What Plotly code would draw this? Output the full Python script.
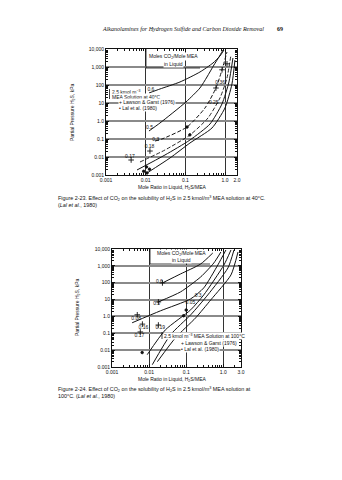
import math
import plotly.graph_objects as go

# ---------------- data: Figure 2-23 (40 °C) ----------------
# H2S partial pressure (kPa) vs. mole ratio H2S/MEA, one curve per CO2 loading
t40_a_x = [0.0121, 0.0229, 0.0731, 0.233, 0.496, 0.744, 0.938]
t40_a_y = [36, 60, 147, 527, 1667, 4083, 8800]
t40_b_x = [0.0121, 0.0229, 0.1035, 0.233, 0.350, 0.525, 0.702, 0.886]
t40_b_y = [0.278, 0.774, 11.4, 68, 278, 1291, 3594, 8800]
t40_c_x = [0.0172, 0.0257, 0.110, 0.312, 0.590, 0.835, 1.117]
t40_c_y = [0.0774, 0.10, 0.464, 5.27, 68, 681, 6813]
t40_d_x = [0.00718, 0.0306, 0.1306, 0.371, 0.744, 1.117, 1.408]
t40_d_y = [0.00527, 0.0245, 0.167, 1.47, 19.0, 245, 4642]
t40_e_x = [0.00604, 0.0306, 0.1306, 0.417, 0.835, 1.254, 1.581]
t40_e_y = [0.0019, 0.0129, 0.088, 0.681, 8.8, 147, 3162]
t40_f_x = [0.0108, 0.0409, 0.1306, 0.468, 0.994, 1.493, 1.775]
t40_f_y = [0.00129, 0.0088, 0.060, 0.408, 5.27, 114, 2448]

# Lawson & Garst (+) and Lal et al. (•) points
t40_lg_x = [0.0043, 0.0128, 0.59, 0.84, 1.12]
t40_lg_y = [0.0068, 0.0215, 68, 700, 1500]
t40_lal_x = [0.0089, 0.0108, 0.0125, 0.0105, 0.11, 0.13]
t40_lal_y = [0.0016, 0.0013, 0.0021, 0.0028, 0.46, 0.17]

# CO2 loading labels
t40_lab_x = [0.0135, 0.0125, 0.018, 0.0040, 0.0125, 0.75, 0.52]
t40_lab_y = [52, 0.42, 0.095, 0.011, 0.035, 130, 11]
t40_lab_t = ["0.6", "0.5", "0.3", "0.17", "0.18", "0.36", "0.25"]

# ---------------- data: Figure 2-24 (100 °C) ----------------
t100_a_x = [0.0229, 0.0705, 0.246, 0.521]
t100_a_y = [97, 332, 1295, 5800]
t100_b_x = [0.0178, 0.0705, 0.246, 0.556, 0.861]
t100_b_y = [7.3, 28.6, 220, 1486, 6640]
t100_c_x = [0.00349, 0.0201, 0.132, 0.297, 0.713, 1.177]
t100_c_y = [0.42, 2.14, 11.0, 49.2, 1130, 8730]
t100_d_x = [0.0089, 0.0275, 0.132, 0.297, 1.04, 1.61]
t100_d_y = [0.0054, 0.16, 2.46, 18.9, 1130, 8730]
t100_e_x = [0.0122, 0.0377, 0.132, 0.382, 1.334, 1.94]
t100_e_y = [0.00137, 0.0815, 1.24, 18.9, 752, 8730]
t100_f_x = [0.0167, 0.0515, 0.180, 0.460, 1.61, 2.49]
t100_f_y = [0.00206, 0.0542, 0.826, 9.6, 290, 6640]

t100_lg_x = [0.0048, 0.0066, 0.0178, 0.0058, 0.0229, 0.0178]
t100_lg_y = [1.25, 0.35, 0.31, 0.12, 97, 7.3]
t100_lal_x = [0.0065, 0.10, 0.085]
t100_lal_y = [0.0072, 2.4, 1.1]

t100_lab_x = [0.0045, 0.0070, 0.020, 0.0055, 0.019, 0.016, 0.13, 0.21]
t100_lab_y = [0.75, 0.21, 0.20, 0.075, 110, 5.5, 6.5, 18]
t100_lab_t = ["0.08", "0.16", "0.19", "0.17", "0.6", "0.5", "0.05", "0.3"]

# tick labels
y_ticks = [0.001, 0.01, 0.1, 1, 10, 100, 1000, 10000]
y_text = ["0.001", "0.01", "0.1", "1.0", "10", "100", "1,000", "10,000"]
x_ticks_top = [0.001, 0.01, 0.1, 1, 2]
x_text_top = ["0.001", "0.01", "0.1", "1.0", "2.0"]
x_ticks_bot = [0.001, 0.01, 0.1, 1, 3]
x_text_bot = ["0.001", "0.01", "0.1", "1.0", "3.0"]

# ---------------- page geometry (342x480 px) ----------------
W, H = 342, 480
def fx(p):
    return p / W
def fy(p):
    return 1 - p / H

INK = "#111111"
SANS = "Liberation Sans"

fig = go.Figure()

def add_curve(x, y, xa, ya, dash="solid", width=1.0):
    fig.add_trace(go.Scatter(
        x=x, y=y, xaxis=xa, yaxis=ya, mode="lines",
        line=dict(color=INK, width=width, dash=dash, shape="spline", smoothing=0.6),
        showlegend=False, hoverinfo="skip"))

def add_points(x, y, xa, ya, symbol, size):
    fig.add_trace(go.Scatter(
        x=x, y=y, xaxis=xa, yaxis=ya, mode="markers",
        marker=dict(symbol=symbol, size=size, color=INK,
                    line=dict(color=INK, width=0.9)),
        showlegend=False, hoverinfo="skip"))

def add_labels(xs, ys, ts, xa, ya):
    fig.add_trace(go.Scatter(
        x=xs, y=ys, xaxis=xa, yaxis=ya, mode="text", text=ts,
        textfont=dict(family=SANS, size=5, color=INK),
        showlegend=False, hoverinfo="skip"))

# top chart
add_curve(t40_a_x, t40_a_y, "x", "y")
add_curve(t40_b_x, t40_b_y, "x", "y")
add_curve(t40_c_x, t40_c_y, "x", "y", dash="4px,2px")
add_curve(t40_d_x, t40_d_y, "x", "y", dash="4px,2px", width=0.9)
add_curve(t40_e_x, t40_e_y, "x", "y")
add_curve(t40_f_x, t40_f_y, "x", "y")
add_points(t40_lg_x, t40_lg_y, "x", "y", "cross-thin", 4)
add_points(t40_lal_x, t40_lal_y, "x", "y", "circle", 2.5)
add_labels(t40_lab_x, t40_lab_y, t40_lab_t, "x", "y")

# bottom chart
add_curve(t100_a_x, t100_a_y, "x2", "y2")
add_curve(t100_b_x, t100_b_y, "x2", "y2")
add_curve(t100_c_x, t100_c_y, "x2", "y2")
add_curve(t100_d_x, t100_d_y, "x2", "y2")
add_curve(t100_e_x, t100_e_y, "x2", "y2")
add_curve(t100_f_x, t100_f_y, "x2", "y2")
add_points(t100_lg_x, t100_lg_y, "x2", "y2", "cross-thin", 4)
add_points(t100_lal_x, t100_lal_y, "x2", "y2", "circle", 2.5)
add_labels(t100_lab_x, t100_lab_y, t100_lab_t, "x2", "y2")

def minor_vals(lo, hi):
    vals = []
    for e in range(lo, hi):
        for m in range(2, 10):
            vals.append(m * 10 ** e)
    return vals

tickfont = dict(family=SANS, size=5, color=INK)

def xaxis(domain, rng, vals, text, anchor):
    return dict(type="log", domain=domain, range=rng, anchor=anchor,
                tickmode="array", tickvals=vals, ticktext=text, tickfont=tickfont,
                showline=True, linecolor=INK, linewidth=1, mirror="ticks",
                ticks="inside", ticklen=3, tickcolor=INK, tickwidth=0.8,
                minor=dict(tickmode="array", tickvals=minor_vals(-3, 1),
                           ticks="inside", ticklen=2, tickcolor=INK, tickwidth=0.6,
                           showgrid=False),
                showgrid=True, gridcolor="#333", gridwidth=0.8,
                zeroline=False, automargin=False, fixedrange=True)

def yaxis(domain, anchor):
    return dict(type="log", domain=domain, range=[-3, 4], anchor=anchor,
                tickmode="array", tickvals=y_ticks, ticktext=y_text, tickfont=tickfont,
                showline=True, linecolor=INK, linewidth=1, mirror="ticks",
                ticks="inside", ticklen=3, tickcolor=INK, tickwidth=0.8,
                minor=dict(tickmode="array", tickvals=minor_vals(-3, 4),
                           ticks="inside", ticklen=2, tickcolor=INK, tickwidth=0.6,
                           showgrid=False),
                showgrid=True, gridcolor="#8a8a8a", gridwidth=1.6,
                zeroline=False, automargin=False, fixedrange=True)

top_xd = [fx(106), fx(237)]
top_yd = [fy(175), fy(49)]
bot_xd = [fx(112), fx(241)]
bot_yd = [fy(367), fy(249)]

fig.update_layout(
    width=W, height=H,
    margin=dict(l=0, r=0, t=0, b=0),
    paper_bgcolor="white", plot_bgcolor="white",
    showlegend=False,
    xaxis=xaxis(top_xd, [-3, math.log10(2)], x_ticks_top, x_text_top, "y"),
    yaxis=yaxis(top_yd, "x"),
    xaxis2=xaxis(bot_xd, [-3, math.log10(3)], x_ticks_bot, x_text_bot, "y2"),
    yaxis2=yaxis(bot_yd, "x2"),
)

ann = []
def text(x, y, s, size=5, anchor="left", angle=0, bg=None, family=SANS, color=INK):
    d = dict(x=fx(x), y=fy(y), xref="paper", yref="paper", text=s, showarrow=False,
             xanchor=anchor, yanchor="middle", textangle=angle,
             font=dict(family=family, size=size, color=color), borderpad=0)
    if bg:
        d["bgcolor"] = bg
    ann.append(d)

# running head
text(101, 29, "<i>Alkanolamines for Hydrogen Sulfide and Carbon Dioxide Removal</i>",
     size=6, family="Liberation Serif")
text(276, 29, "<b>69</b>", size=6, family="Liberation Serif")

# top chart texts
text(73, 113, "Partial Pressure H<sub>2</sub>S, kPa", size=5, anchor="center", angle=-90)
text(172, 188, "Mole Ratio in Liquid, H<sub>2</sub>S/MEA", size=5, anchor="center")
text(173, 56, "Moles CO<sub>2</sub>/Mole MEA", size=5, anchor="center", bg="white")
text(173, 63.5, "in Liquid", size=5, anchor="center", bg="white")
text(110.5, 92, "2.5 kmol m<sup>−3</sup>", size=5, bg="white")
text(110.5, 97, "MEA Solution at 40°C", size=5, bg="white")
text(118, 102.5, "+ Lawson & Garst (1976)", size=5, bg="white")
text(118, 108, "• Lal et al. (1980)", size=5, bg="white")

# bottom chart texts
text(77, 308, "Partial Pressure H<sub>2</sub>S, kPa", size=5, anchor="center", angle=-90)
text(172, 379, "Mole Ratio in Liquid, H<sub>2</sub>S/MEA", size=5, anchor="center")
text(181, 253, "Moles CO<sub>2</sub>/Mole MEA", size=5, anchor="center", bg="white")
text(181, 260, "in Liquid", size=5, anchor="center", bg="white")
text(163, 336, "2.5 kmol m<sup>−3</sup> MEA Solution at 100°C", size=5, bg="white")
text(180, 343, "+ Lawson & Garst (1976)", size=5, bg="white")
text(180, 349, "• Lal et al. (1980)", size=5, bg="white")

# captions
text(57, 198.5, "Figure 2-23. Effect of CO<sub>2</sub> on the solubility of H<sub>2</sub>S in 2.5 kmol/m<sup>3</sup> MEA solution at 40°C.",
     size=5.4)
text(57, 205, "(<i>Lal et al.</i>, 1980)", size=5.4)
text(57, 389, "Figure 2-24. Effect of CO<sub>2</sub> on the solubility of H<sub>2</sub>S in 2.5 kmol/m<sup>3</sup> MEA solution at",
     size=5.4)
text(57, 395.5, "100°C. (<i>Lal et al.</i>, 1980)", size=5.4)

fig.update_layout(annotations=ann)

# frame of the loading key and the legend bracket
line = dict(color=INK, width=0.8)
shapes = [
    dict(type="line", xref="paper", yref="paper", x0=fx(146), x1=fx(146), y0=fy(49), y1=fy(68), line=line),
    dict(type="line", xref="paper", yref="paper", x0=fx(146), x1=fx(200), y0=fy(68), y1=fy(68), line=line),
    dict(type="line", xref="paper", yref="paper", x0=fx(109.5), x1=fx(109.5), y0=fy(89), y1=fy(99), line=line),
    dict(type="line", xref="paper", yref="paper", x0=fx(150), x1=fx(150), y0=fy(249), y1=fy(264), line=line),
    dict(type="line", xref="paper", yref="paper", x0=fx(150), x1=fx(210), y0=fy(264), y1=fy(264), line=line),
    dict(type="line", xref="paper", yref="paper", x0=fx(162), x1=fx(162), y0=fy(332), y1=fy(339), line=line),
]
fig.update_layout(shapes=shapes)

fig.write_html("out.html")
